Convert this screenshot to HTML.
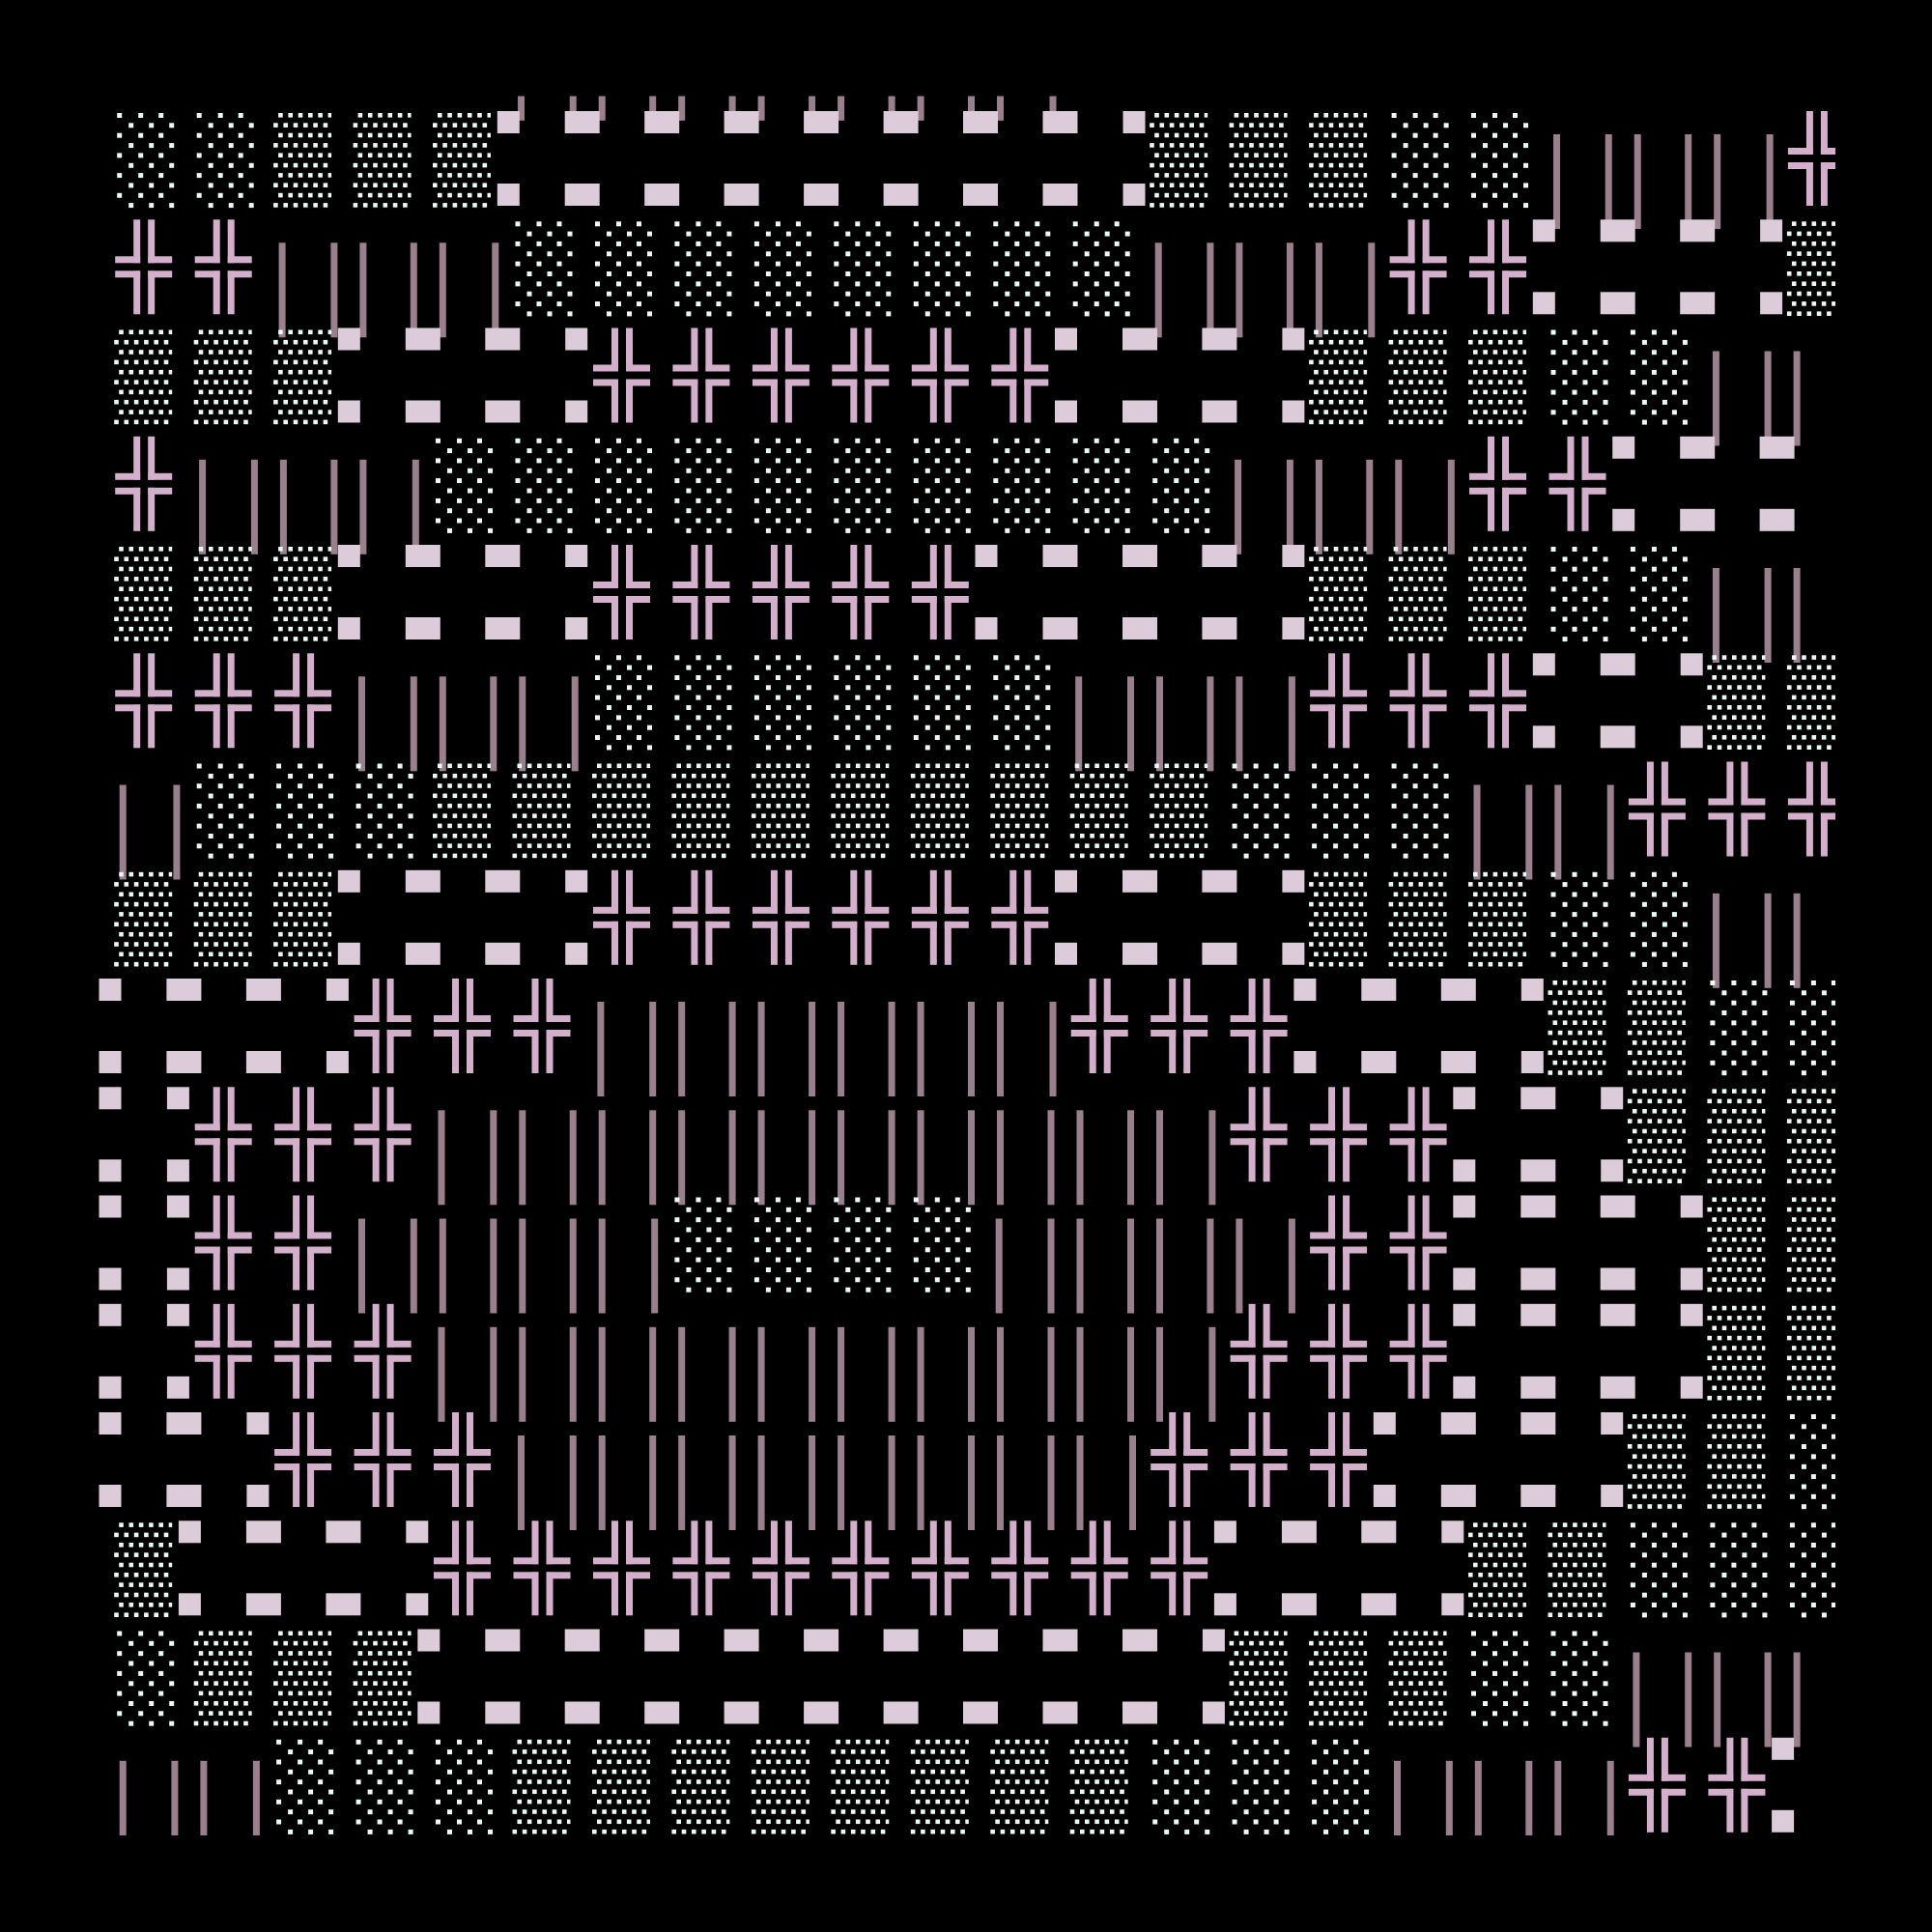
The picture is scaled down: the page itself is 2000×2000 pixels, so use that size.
<!DOCTYPE html>
<html><head><meta charset="utf-8"><style>html,body{margin:0;padding:0;background:#000;width:2000px;height:2000px;overflow:hidden}</style></head>
<body>
<svg id="s" xmlns="http://www.w3.org/2000/svg" width="2000" height="2000" viewBox="0 0 2000 2000">
<rect width="2000" height="2000" fill="#000"/>
<defs><clipPath id="cl"><rect x="102" y="99.5" width="1798" height="1800.5"/></clipPath></defs>
<g id="bars" clip-path="url(#cl)" fill="#9a7f8c"></g>
<g id="fg" clip-path="url(#cl)"></g>
</svg>
<script>
var rows={
"-1":"B5-11",
"0":"S0-1 D2-4 R5-12 D13-15 S16-17 B18-20 C21",
"1":"C0-1 B2-4 S5-12 B13-15 C16-17 R18-20 D21",
"2":"D0-2 R3-5 C6-11 R12-14 D15-17 S18-19 B20-21",
"3":"C0 B1-3 S4-13 B14-16 C17-18 R19-21",
"4":"D0-2 R3-5 C6-10 R11-14 D15-17 S18-19 B20-21",
"5":"C0-2 B3-5 S6-11 B12-14 C15-17 R18-19 D20-21",
"6":"B0 S1-3 D4-13 S14-16 B17-18 C19-21",
"7":"D0-2 R3-5 C6-11 R12-14 D15-17 S18-19 B20-21",
"8":"R0-2 C3-5 B6-11 C12-14 R15-17 D18-19 S20-21",
"9":"R0 C1-3 B4-13 C14-16 R17-18 D19-21",
"10":"R0 C1-2 B3-6 S7-10 B11-14 C15-16 R17-19 D20-21",
"11":"R0 C1-3 B4-13 C14-16 R17-19 D20-21",
"12":"R0-1 C2-4 B5-12 C13-15 R16-18 D19-20 S21",
"13":"D0 R1-3 C4-13 R14-16 D17-18 S19-21",
"14":"S0 D1-3 R4-13 D14-16 S17-18 B19-21",
"15":"B0-1 S2-4 D5-12 S13-15 B16-18 C19-20 R21"
};
var P=82.46, H=112.25;
function cx(i){return 149.2+P*i;}
function ty(r){return 115+H*r;}
var bs=[],fs=[];
function R(a,x,y,w,h,c){a.push('<rect x="'+x.toFixed(1)+'" y="'+y.toFixed(1)+'" width="'+w.toFixed(1)+'" height="'+h.toFixed(1)+'"'+(c?' fill="'+c+'"':'')+'/>');}
var DOT="#e8fbf5",CR="#d4afcc",DS="#dccbd8";
function sparse(c,t){var x=cx(c),ex=[-28,-6,15],od=[-16,5,26];
 for(var k=0;k<10;k++){var y=t+2+k*10.35,a=k%2?od:ex;for(var j=0;j<3;j++)R(fs,x+a[j],y,5,5,DOT);}}
function dense(c,t){var x=cx(c);
 for(var k=0;k<10;k++){var y=t+2+k*10.35,s=k%2?-31:-26;for(var j=0;j<6;j++){var xx=x+s+j*10.3,w=4.6;if(xx+w>x+29)w=x+29-xx;if(w>0.5)R(fs,xx,y,w,4.6,DOT);}}}
function cross(c,t){var x=cx(c)-30;
 R(fs,x+19,t,7,45,CR);R(fs,x,t+38,26,7,CR);
 R(fs,x+34,t,7,45,CR);R(fs,x+34,t+38,25,7,CR);
 R(fs,x,t+53,26,7,CR);R(fs,x+19,t+53,7,45,CR);
 R(fs,x+34,t+53,25,7,CR);R(fs,x+34,t+53,7,45,CR);}
function dash(a,b,t){var L=cx(a)-P/2,Rr=cx(b)+P/2;
 [t,t+75].forEach(function(y){R(fs,L+6-11.5,y,23,23,DS);R(fs,Rr-6-11.5,y,23,23,DS);
  for(var i=a;i<b;i++){var B=cx(i)+P/2;R(fs,B-18,y,36,23,DS);}});}
function bars(a,b,t){var L=cx(a)-P/2,Rr=cx(b)+P/2,y=t+24,h=98;
 R(bs,L+15.7,y,7,h);R(bs,Rr-11,y,7,h);
 for(var i=a;i<b;i++){var B=cx(i)+P/2;R(bs,B-13,y,7,h);R(bs,B+17,y,7,h);}}
for(var k in rows){var r=parseInt(k),t=ty(r);
 rows[k].split(' ').forEach(function(s){var ty_=s[0],m=s.slice(1).split('-'),a=parseInt(m[0]),b=m.length>1?parseInt(m[1]):a;
  if(ty_=='R')dash(a,b,t);else if(ty_=='B')bars(a,b,t);
  else for(var i=a;i<=b;i++){if(ty_=='S')sparse(i,t);else if(ty_=='D')dense(i,t);else if(ty_=='C')cross(i,t);}});}
document.getElementById('bars').innerHTML=bs.join('');
document.getElementById('fg').innerHTML=fs.join('');
</script>
</body></html>
